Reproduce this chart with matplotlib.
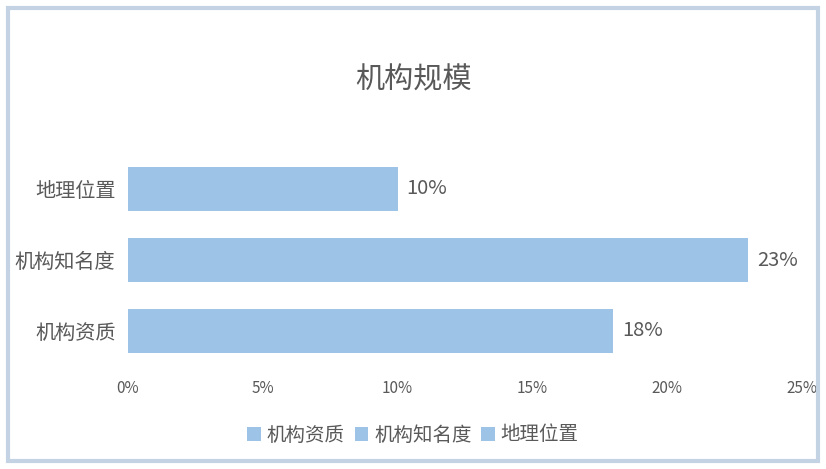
import matplotlib
matplotlib.use("Agg")
import matplotlib.pyplot as plt
from matplotlib.patches import Rectangle

plt.rcParams['font.family'] = ['Noto Sans CJK SC', 'DejaVu Sans']

categories = ['机构资质', '机构知名度', '地理位置']
values = [18, 23, 10]
xticks = [0, 5, 10, 15, 20, 25]
title = '机构规模'

bar_color = '#9DC3E6'
text_color = '#595959'

fig = plt.figure(figsize=(8.26, 4.69), dpi=100)
W, H = 826, 469
ax = fig.add_axes([128 / W, 1 - 366.5 / H, (802 - 128) / W, 213 / H])

for i, (c, v) in enumerate(zip(categories, values)):
    ax.barh(i, v, height=0.62, color=bar_color, label=c)
    ax.text(v + 0.33, i, f'{v}%', va='center', ha='left', fontsize=14.5, color=text_color)

ax.set_xlim(0, 25)
ax.set_ylim(-0.5, 2.5)
ax.set_yticks(range(len(categories)))
ax.set_yticklabels(categories, fontsize=14.5, color=text_color)
ax.set_xticks(xticks)
ax.set_xticklabels([f'{t}%' for t in xticks], fontsize=11, color=text_color)
ax.tick_params(axis='both', length=0)
ax.tick_params(axis='x', pad=10)
ax.tick_params(axis='y', pad=9)
for s in ax.spines.values():
    s.set_visible(False)

fig.text(0.5, 1 - 80 / H, title, ha='center', va='center', fontsize=21, color=text_color)

leg = fig.legend(loc='center', bbox_to_anchor=(0.5, 1 - 435 / H), ncol=3, frameon=False,
                 fontsize=14, handlelength=0.7, handleheight=0.7, handletextpad=0.3,
                 columnspacing=0.5)
for t in leg.get_texts():
    t.set_color(text_color)

fig.patches.append(Rectangle((8 / W, 8 / H), (818 - 8) / W, (461 - 8) / H,
                             transform=fig.transFigure, fill=False,
                             edgecolor='#C3D3E3', linewidth=3))

fig.savefig('out.png', dpi=100, facecolor='white')
